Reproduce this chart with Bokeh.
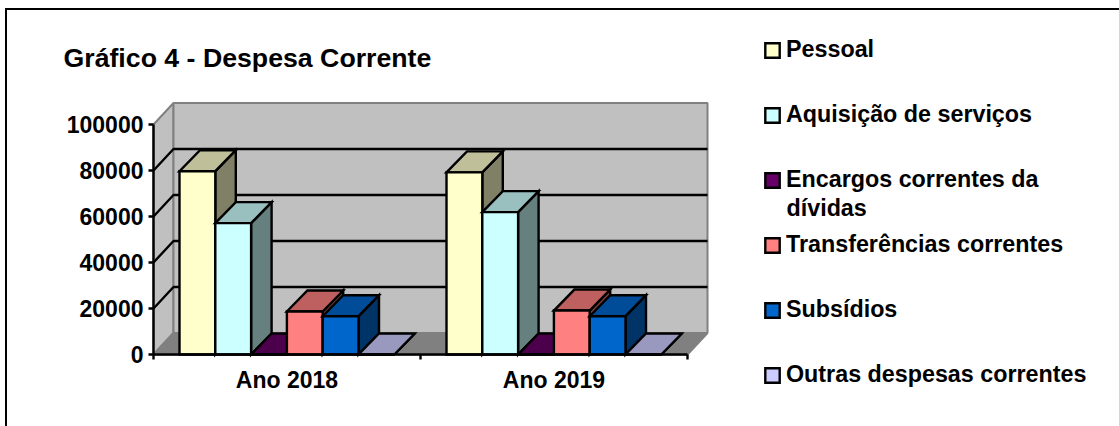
from bokeh.plotting import figure
from bokeh.models import Range1d, FixedTicker, Label, Legend, LegendItem, LinearAxis
from bokeh.embed import file_html
from bokeh.resources import INLINE

title_text = "Gráfico 4 - Despesa Corrente"
categories = ["Ano 2018", "Ano 2019"]
series_names = ["Pessoal", "Aquisição de serviços", "Encargos correntes da",
                "Transferências correntes", "Subsídios", "Outras despesas correntes"]
wrapped_line = "dívidas"
pessoal = [79700, 79200]
aquisicao = [57100, 61900]
encargos = [0, 0]
transferencias = [18700, 19100]
subsidios = [16650, 16650]
outras = [0, 0]
series_values = [pessoal, aquisicao, encargos, transferencias, subsidios, outras]
y_ticks = [0, 20000, 40000, 60000, 80000, 100000]
front_colors = [(255, 255, 204), (204, 255, 255), (102, 0, 102),
                (255, 128, 128), (0, 102, 204), (204, 204, 255)]

W, H = 1119, 426
FL, FB = 153, 354
PX_X, PX_Y = 267.0, 0.0023
DX, DY = 20 / PX_X, 21.5 / PX_Y
DX_BAR, DY_BAR = 20.5 / PX_X, 21.0 / PX_Y
X_END = 2 + DX
BAR_W = 35.8 / PX_X
GROUP_OFF = 26.0 / PX_X
FONT = "Liberation Sans"
LW = 2.4


def hexc(c, f=1.0):
    return "#%02x%02x%02x" % tuple(int(round(v * f)) for v in c)


frame_css = {
    "background-image": "linear-gradient(black,black),linear-gradient(black,black)",
    "background-size": f"2px {H}px,{W}px 2px",
    "background-position": "5px 8px,5px 8px",
    "background-repeat": "no-repeat",
}
p = figure(width=W, height=H, output_backend="svg", toolbar_location=None,
           x_range=Range1d(-FL / PX_X, (W - FL) / PX_X), y_range=Range1d(-(H - FB) / PX_Y, FB / PX_Y),
           x_axis_location=None, y_axis_location=None,
           min_border=0, outline_line_color=None, background_fill_color=None, border_fill_color=None,
           margin=(0, 0, 0, 0), styles=frame_css)
p.grid.visible = False

# walls and floor
top = max(y_ticks)
p.patch([0, 0, DX, DX], [0, top, top + DY, DY], fill_color="#c0c0c0", line_color="#808080", line_width=2)
p.patch([DX, DX, X_END, X_END], [DY, top + DY, top + DY, DY], fill_color="#c0c0c0", line_color="#808080", line_width=2)
p.patch([0, DX, X_END, 2], [0, DY, DY, 0], fill_color="#808080", line_color="#808080", line_width=2)
inner = [t for t in y_ticks if 0 < t < top]
p.multi_line([[0, DX, X_END] for _ in inner], [[t, t + DY, t + DY] for t in inner],
             line_color="black", line_width=LW)

# bars, back to front
items = []
for s, vals in enumerate(series_values):
    c = front_colors[s]
    fronts = []
    for g, v in enumerate(vals):
        x0 = g + GROUP_OFF + s * BAR_W
        x1 = x0 + BAR_W
        p.patch([x1, x1, x1 + DX_BAR, x1 + DX_BAR], [0, v, v + DY_BAR, DY_BAR],
                fill_color=hexc(c, 0.5), line_color="black", line_width=LW, line_join="miter")
        p.patch([x0, x1, x1 + DX_BAR, x0 + DX_BAR], [v, v, v + DY_BAR, v + DY_BAR],
                fill_color=hexc(c, 0.75), line_color="black", line_width=LW, line_join="miter")
        fronts.append(p.patch([x0, x1, x1, x0], [0, 0, v, v],
                              fill_color=hexc(c), line_color="black", line_width=LW, line_join="miter"))
    items.append(LegendItem(label=series_names[s], renderers=[fronts[0]]))

# axes
ya = LinearAxis(fixed_location=0, ticker=FixedTicker(ticks=y_ticks), bounds=(0, top),
                major_tick_in=0, major_tick_out=5, minor_tick_line_color=None,
                major_tick_line_width=LW, major_tick_line_color="black",
                axis_line_width=LW, axis_line_color="black", major_label_standoff=5,
                major_label_text_font=FONT, major_label_text_font_style="bold",
                major_label_text_font_size="23px", major_label_text_color="black")
ya.formatter.use_scientific = False
p.add_layout(ya, "left")

xa = LinearAxis(fixed_location=0, ticker=FixedTicker(ticks=[0.5, 1.5], minor_ticks=[0, 1, 2]),
                major_label_overrides={0.5: categories[0], 1.5: categories[1]}, bounds=(0, 2),
                major_tick_in=0, major_tick_out=0, minor_tick_in=0, minor_tick_out=5,
                minor_tick_line_width=LW, minor_tick_line_color="black",
                axis_line_width=LW, axis_line_color="black", major_label_standoff=7,
                major_label_text_font=FONT, major_label_text_font_style="bold",
                major_label_text_font_size="23px", major_label_text_color="black")
p.add_layout(xa, "below")


def txt(s, x, y, size):
    p.add_layout(Label(x=x, y=H - y, x_units="screen", y_units="screen", text=s, text_font=FONT,
                       text_font_style="bold", text_font_size=size, text_color="black",
                       text_baseline="alphabetic"))


txt(title_text, 63, 57, "26.7px")
txt(wrapped_line, 786, 207, "23.3px")

legend = Legend(items=items, location=(763, H - 388), orientation="vertical",
                glyph_width=18, glyph_height=18, label_height=18, label_width=10, spacing=38,
                padding=0, margin=0, label_standoff=5, border_line_color=None,
                background_fill_alpha=0, label_text_font=FONT, label_text_font_style="bold",
                label_text_font_size="23.3px", label_text_color="black", label_text_baseline="middle")
p.add_layout(legend, "center")

open("out.html", "w").write(file_html(p, INLINE))
